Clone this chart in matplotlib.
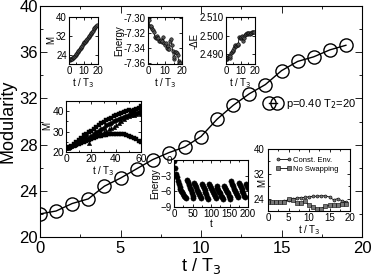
import numpy as np
import matplotlib
matplotlib.use("Agg")
import matplotlib.pyplot as plt
from matplotlib.ticker import MultipleLocator

plt.rcParams['font.family'] = ['Liberation Sans', 'DejaVu Sans']

# ---------------- data ----------------
main_t = list(range(20))
main_M = [22.0, 22.25, 22.9, 23.3, 24.4, 25.1, 25.9, 26.7, 27.3, 27.8,
          28.7, 30.2, 31.4, 32.4, 33.2, 34.4, 35.2, 35.6, 36.2, 36.6]
legend_label = "p=0.40 T$_2$=20"

# inset A: M vs t/T3 (dense)
a_t = [i * 0.5 for i in range(39)]
a_M = [22.0, 21.9, 22.1, 22.2, 22.3, 22.5, 22.8, 23.0, 23.3, 23.8,
       24.3, 24.8, 25.1, 25.6, 26.0, 26.5, 27.0, 27.4, 27.8, 28.4,
       28.9, 29.2, 29.4, 29.7, 30.1, 30.5, 30.9, 31.4, 31.9, 32.3,
       32.8, 33.2, 33.7, 34.2, 34.7, 35.2, 35.6, 36.2, 36.6]

# inset B: Energy vs t/T3
b_t = [i * 0.5 for i in range(39)]
b_E = [-7.300, -7.302, -7.310, -7.312, -7.310, -7.315, -7.316, -7.318, -7.325, -7.326,
       -7.324, -7.327, -7.326, -7.330, -7.331, -7.329, -7.332, -7.330, -7.325, -7.333,
       -7.336, -7.334, -7.340, -7.338, -7.342, -7.341, -7.330, -7.328, -7.336, -7.344,
       -7.355, -7.352, -7.346, -7.345, -7.347, -7.350, -7.358, -7.360, -7.360]

# inset C: -dE vs t/T3
c_t = [i * 0.5 for i in range(39)]
c_dE = [2.4870, 2.4875, 2.4880, 2.4885, 2.4890, 2.4880, 2.4888, 2.4905, 2.4910, 2.4915,
        2.4920, 2.4935, 2.4945, 2.4950, 2.4945, 2.4950, 2.4948, 2.4955, 2.4990, 2.4985,
        2.4985, 2.4995, 2.5000, 2.4995, 2.4970, 2.4985, 2.5005, 2.5010, 2.5008, 2.5012,
        2.5010, 2.5012, 2.5015, 2.5010, 2.5012, 2.5015, 2.5018, 2.5020, 2.5022]

# inset D: M vs t/T3 (0-60), four runs
d_t = [i * 2 for i in range(31)]
d_M1 = [22.0, 22.3, 23.0, 24.0, 25.0, 26.0, 27.0, 28.5, 29.0, 30.0, 30.5, 31.5, 32.5, 33.0, 34.0, 34.5,
        35.5, 36.0, 36.5, 37.5, 38.0, 38.5, 39.0, 39.5, 40.0, 40.5, 40.0, 40.5, 41.0, 41.5, 42.5]
d_M2 = [22.0, 22.2, 22.8, 23.5, 24.5, 25.5, 26.5, 27.5, 28.5, 27.0, 28.0, 29.0, 30.0, 30.5, 31.5, 32.0,
        33.0, 33.5, 34.0, 35.0, 35.5, 36.0, 36.5, 37.0, 37.5, 38.0, 38.5, 39.0, 39.0, 39.5, 40.0]
d_M3 = [22.0, 22.3, 23.0, 23.5, 24.5, 25.0, 26.0, 26.5, 27.0, 24.5, 27.5, 28.0, 28.5, 29.0, 29.5, 30.0,
        30.5, 31.5, 32.0, 32.5, 33.0, 34.0, 35.0, 36.0, 37.0, 37.5, 38.0, 38.0, 38.5, 39.0, 38.5]
d_M4 = [22.0, 22.2, 22.6, 23.0, 23.5, 24.0, 24.5, 25.0, 25.5, 26.0, 26.5, 27.0, 27.3, 27.6, 28.0, 28.2,
        28.5, 28.7, 28.8, 29.0, 29.0, 29.0, 28.8, 28.8, 28.5, 28.0, 27.5, 27.0, 26.5, 25.5, 25.0]

# inset E: Energy vs t (sawtooth)
e_t = [i * 2.5 for i in range(81)]
e_E = [-0.2, -1.5, -2.6, -3.3, -4.0, -4.6, -5.1, -5.5, -5.9, -6.2, -6.5, -6.8, -7.0, -7.2,
       -3.8, -4.3, -4.8, -5.3, -5.8, -6.3, -6.8, -7.2,
       -4.4, -4.8, -5.2, -5.7, -6.1, -6.5, -6.9, -7.3,
       -4.6, -5.0, -5.4, -5.8, -6.2, -6.6, -7.0, -7.4,
       -4.5, -4.9, -5.3, -5.7, -6.1, -6.5, -6.9, -7.3,
       -5.0, -5.4, -5.7, -6.1, -6.4, -6.8, -7.1, -7.5,
       -4.9, -5.3, -5.7, -6.1, -6.4, -6.8, -7.1, -7.5,
       -4.0, -4.5, -5.0, -5.5, -5.9, -6.3, -6.7, -7.0,
       -4.4, -4.8, -5.2, -5.6, -6.0, -6.4, -6.8, -7.1,
       -4.6, -5.0, -5.4]

# inset F: M vs t/T3 for control runs
f_t = list(range(20))
f_const = [22.9, 22.9, 23.0, 23.0, 23.1, 23.6, 23.8, 24.2, 24.3, 24.4,
           24.6, 24.7, 24.8, 24.9, 24.9, 24.5, 23.6, 24.0, 23.3, 23.0]
f_noswap = [22.9, 23.0, 23.0, 23.0, 23.0, 23.8, 23.5, 22.6, 22.5, 23.2,
            21.8, 21.2, 20.8, 20.8, 21.5, 21.8, 21.8, 22.0, 22.3, 22.3]
f_labels = ["Const. Env.", "No Swapping"]

# ---------------- figure ----------------
W, H = 374, 275
fig = plt.figure(figsize=(W / 100, H / 100), dpi=100)


def box(x0, y0, x1, y1):
    return [x0 / W, 1 - y1 / H, (x1 - x0) / W, (y1 - y0) / H]


def style(ax, fs, major_len, minor_len):
    ax.tick_params(which='both', direction='in', top=True, right=True,
                   labelsize=fs, pad=1.5, width=0.6)
    ax.tick_params(which='major', length=major_len)
    ax.tick_params(which='minor', length=minor_len)
    for s in ax.spines.values():
        s.set_linewidth(0.8)


ax = fig.add_axes(box(40, 6, 362, 237))
ax.plot(main_t, main_M, color='black', lw=1.0, marker='o', ms=9.5,
        mfc='none', mec='black', mew=1.0, label=legend_label)
ax.set_xlim(0, 20)
ax.set_ylim(20, 40)
ax.xaxis.set_major_locator(MultipleLocator(5))
ax.xaxis.set_minor_locator(MultipleLocator(2.5))
ax.yaxis.set_major_locator(MultipleLocator(4))
ax.yaxis.set_minor_locator(MultipleLocator(2))
style(ax, 12, 5, 2.5)
ax.tick_params(axis='x', pad=3)
ax.set_xlabel("t / T$_3$", fontsize=13, labelpad=0)
ax.set_ylabel("Modularity", fontsize=13, labelpad=2)
ax.legend(loc='center left', bbox_to_anchor=(0.68, 0.575), frameon=False,
          fontsize=8, numpoints=2, handlelength=1.3, handletextpad=0.5,
          borderpad=0.1)

ins_fs = 7
lab_fs = 7

# inset A
axA = fig.add_axes(box(69, 17, 98, 64))
axA.plot(a_t, a_M, color='black', lw=0.6, marker='o', ms=2.5, mfc='#555555', mec='black', mew=0.4)
axA.set_xlim(0, 20); axA.set_ylim(20, 40)
axA.set_xticks([0, 10, 20]); axA.set_yticks([24, 32, 40])
axA.xaxis.set_minor_locator(MultipleLocator(5))
style(axA, ins_fs, 2.5, 1.2)
axA.set_xlabel("t / T$_3$", fontsize=lab_fs, labelpad=0)
axA.set_ylabel("M", fontsize=lab_fs, labelpad=0)

# inset B
axB = fig.add_axes(box(148, 17, 182, 64))
axB.plot(b_t, b_E, color='black', lw=0.6, marker='o', ms=2.5, mfc='#555555', mec='black', mew=0.4)
axB.set_xlim(0, 20); axB.set_ylim(-7.362, -7.298)
axB.set_xticks([0, 10, 20]); axB.set_yticks([-7.30, -7.32, -7.34, -7.36])
axB.set_yticklabels(["-7.30", "-7.32", "-7.34", "-7.36"])
axB.xaxis.set_minor_locator(MultipleLocator(5))
style(axB, ins_fs, 2.5, 1.2)
axB.set_xlabel("t / T$_3$", fontsize=lab_fs, labelpad=0)
axB.set_ylabel("Energy", fontsize=lab_fs, labelpad=0)

# inset C
axC = fig.add_axes(box(226, 17, 255, 64))
axC.plot(c_t, c_dE, color='black', lw=0.6, marker='o', ms=2.5, mfc='#555555', mec='black', mew=0.4)
axC.set_xlim(0, 20); axC.set_ylim(2.4845, 2.5102)
axC.set_xticks([0, 10, 20]); axC.set_yticks([2.490, 2.500, 2.510])
axC.set_yticklabels(["2.490", "2.500", "2.510"])
axC.xaxis.set_minor_locator(MultipleLocator(5))
style(axC, ins_fs, 2.5, 1.2)
axC.set_xlabel("t / T$_3$", fontsize=lab_fs, labelpad=0)
axC.set_ylabel("-ΔE", fontsize=lab_fs, labelpad=0)

# inset D
axD = fig.add_axes(box(66, 101, 141, 152))
for ys, mk in zip([d_M1, d_M2, d_M3, d_M4], ['s', 'o', '^', 's']):
    axD.plot(d_t, ys, ls='none', marker=mk, ms=3.2, mfc='black', mec='black', mew=0.3)
axD.set_xlim(0, 60); axD.set_ylim(20, 45)
axD.set_xticks([0, 20, 40, 60]); axD.set_yticks([20, 30, 40])
axD.xaxis.set_minor_locator(MultipleLocator(10))
axD.yaxis.set_minor_locator(MultipleLocator(5))
style(axD, 7.5, 2.5, 1.2)
axD.set_xlabel("t / T$_3$", fontsize=lab_fs, labelpad=0)
axD.set_ylabel("M", fontsize=lab_fs, labelpad=0)

# inset E
axE = fig.add_axes(box(174, 160, 248, 207))
axE.plot(e_t, e_E, ls='none', marker='o', ms=3.8, mfc='black', mec='black', mew=0.3)
axE.set_xlim(0, 200); axE.set_ylim(-9, 0)
axE.set_xticks([0, 50, 100, 150, 200]); axE.set_yticks([0, -3, -6, -9])
axE.xaxis.set_minor_locator(MultipleLocator(25))
style(axE, 7, 2.5, 1.2)
axE.set_xlabel("t", fontsize=lab_fs, labelpad=0)
axE.set_ylabel("Energy", fontsize=lab_fs, labelpad=0)

# inset F
axF = fig.add_axes(box(268, 149, 350, 211))
axF.plot(f_t, f_const, color='black', lw=0.6, marker='o', ms=2.2, mfc='#777777', mec='black', mew=0.4, label=f_labels[0])
axF.plot(f_t, f_noswap, color='black', lw=0.6, marker='s', ms=2.2, mfc='#777777', mec='black', mew=0.4, label=f_labels[1])
axF.set_xlim(0, 20); axF.set_ylim(20, 40)
axF.set_xticks([0, 5, 10, 15, 20]); axF.set_yticks([24, 32, 40])
axF.yaxis.set_minor_locator(MultipleLocator(4))
axF.xaxis.set_minor_locator(MultipleLocator(2.5))
style(axF, 7, 2.5, 1.2)
axF.tick_params(axis='y', pad=2.5)
axF.set_xlabel("t / T$_3$", fontsize=lab_fs, labelpad=0)
axF.set_ylabel("M", fontsize=lab_fs)
axF.yaxis.set_label_coords(-0.005, 0.45)
axF.legend(loc='upper left', bbox_to_anchor=(0.02, 0.98), frameon=False,
           fontsize=5.5, handlelength=2.0, handletextpad=0.3, borderpad=0.3,
           labelspacing=0.25, numpoints=2)

fig.savefig("out.png", dpi=100)
